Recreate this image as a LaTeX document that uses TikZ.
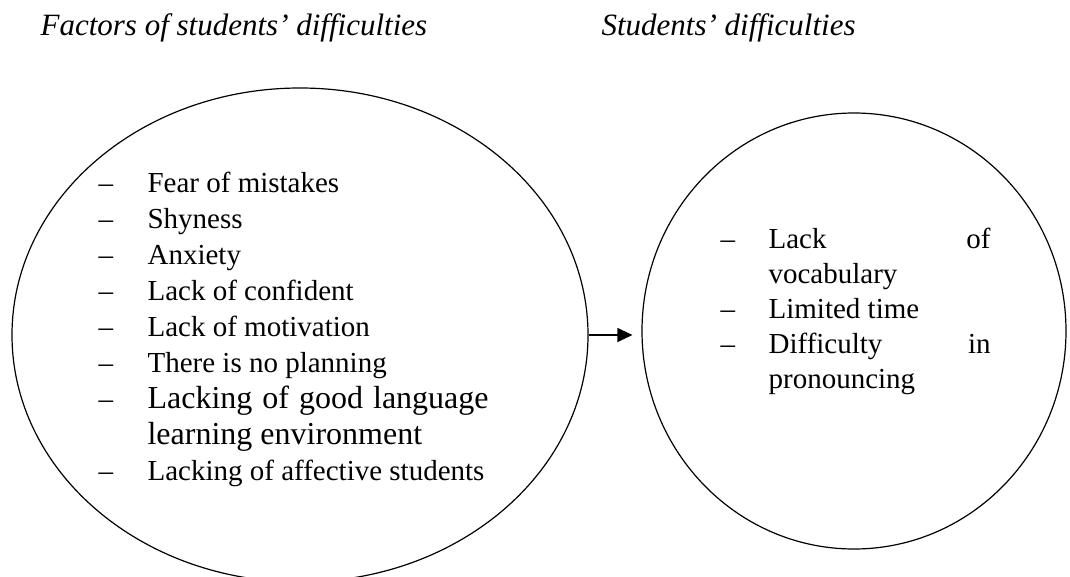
\documentclass[tikz,border=0pt]{standalone}
\usepackage{fontspec}
\setmainfont{Liberation Serif}
\usetikzlibrary{arrows.meta, positioning, shapes.geometric, calc}

\begin{document}
\begin{tikzpicture}[x=1pt, y=-1pt, line width=1.2pt,
    bubble/.style={draw, ellipse, inner sep=0pt},
    heading/.style={anchor=base west, inner sep=0pt, font=\fontsize{31}{36}\selectfont\itshape},
    itemlist/.style={anchor=base west, inner sep=0pt, font=\fontsize{29}{36}\selectfont}]
    \useasboundingbox (0,0) rectangle (1070,576);

    % headings
    \node[heading] (factorshead) at (40,35) {Factors of students' difficulties};
    \node[heading] (difficultieshead) at (601,35) {Students' difficulties};

    % factors ellipse
    \node[bubble, minimum width=576pt, minimum height=494pt] (factors) at (300,335) {};

    % difficulties ellipse
    \node[bubble, minimum width=424pt, minimum height=436pt] (difficulties) at (854,331) {};

    % factors list
    \node[itemlist] (factorlist) at (98,192) {%
      \begin{tabular}[t]{@{}p{49pt}@{}p{341pt}@{}}
        -- & Fear of mistakes\\
        -- & Shyness\\
        -- & Anxiety\\
        -- & Lack of confident\\
        -- & Lack of motivation\\
        -- & There is no planning\\
        -- & {\fontsize{32}{37}\selectfont Lacking of good language learning environment}\\
        -- & Lacking of affective students
      \end{tabular}};

    % difficulties list
    \node[itemlist, font=\fontsize{29}{35}\selectfont] (difficultylist) at (720,248) {%
      \begin{tabular}[t]{@{}p{48pt}@{}p{222pt}@{}}
        -- & Lack\hfill of\newline vocabulary\\
        -- & Limited time\\
        -- & Difficulty\hfill in\newline pronouncing
      \end{tabular}};

    % arrow
    \coordinate (tip) at ($(difficulties.west |- factors.east)+(-9,0)$);
    \draw[-{Triangle[length=15pt, width=14pt]}] (factors.east) -- (tip);
\end{tikzpicture}
\end{document}
